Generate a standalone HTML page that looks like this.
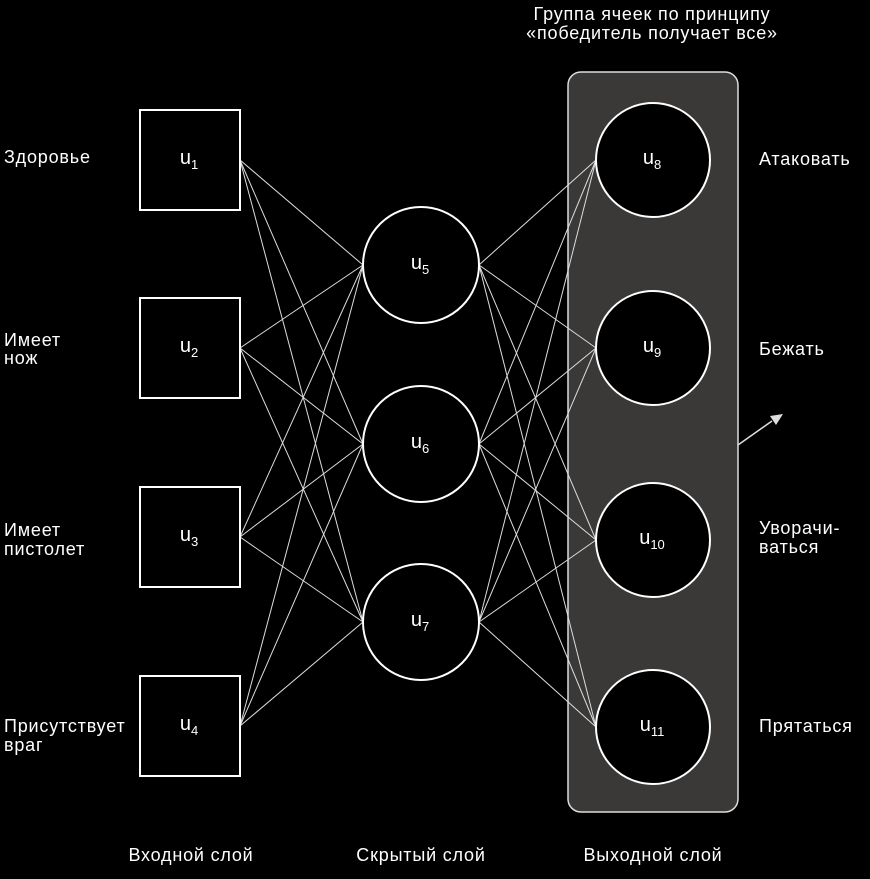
<!DOCTYPE html>
<html><head><meta charset="utf-8"><style>
html,body{margin:0;padding:0;background:#000;}
svg{display:block}
text{font-family:"Liberation Sans","DejaVu Sans",sans-serif;fill:#fff;font-size:18px;letter-spacing:0.8px}
.u{font-size:20px;letter-spacing:0}
</style></head><body>
<svg width="870" height="879" viewBox="0 0 870 879" xmlns="http://www.w3.org/2000/svg">
<rect x="568" y="72" width="170" height="740" rx="13" fill="#3a3937" stroke="#ddd" stroke-width="1.5"/>
<g stroke="#ddd" stroke-width="1">
<line x1="240" y1="160" x2="363" y2="265"/><line x1="240" y1="160" x2="363" y2="444"/><line x1="240" y1="160" x2="363" y2="622"/>
<line x1="240" y1="348" x2="363" y2="265"/><line x1="240" y1="348" x2="363" y2="444"/><line x1="240" y1="348" x2="363" y2="622"/>
<line x1="240" y1="537" x2="363" y2="265"/><line x1="240" y1="537" x2="363" y2="444"/><line x1="240" y1="537" x2="363" y2="622"/>
<line x1="240" y1="726" x2="363" y2="265"/><line x1="240" y1="726" x2="363" y2="444"/><line x1="240" y1="726" x2="363" y2="622"/>
<line x1="479" y1="265" x2="596" y2="160"/><line x1="479" y1="265" x2="596" y2="348"/><line x1="479" y1="265" x2="596" y2="540"/><line x1="479" y1="265" x2="596" y2="727"/>
<line x1="479" y1="444" x2="596" y2="160"/><line x1="479" y1="444" x2="596" y2="348"/><line x1="479" y1="444" x2="596" y2="540"/><line x1="479" y1="444" x2="596" y2="727"/>
<line x1="479" y1="622" x2="596" y2="160"/><line x1="479" y1="622" x2="596" y2="348"/><line x1="479" y1="622" x2="596" y2="540"/><line x1="479" y1="622" x2="596" y2="727"/>
<line x1="738" y1="445" x2="772" y2="421" stroke-width="1.5"/>
</g>
<polygon points="783,414 770,416 776,425" fill="#ddd"/>
<g fill="#000" stroke="#fff" stroke-width="2">
<rect x="140" y="110" width="100" height="100"/>
<rect x="140" y="298" width="100" height="100"/>
<rect x="140" y="487" width="100" height="100"/>
<rect x="140" y="676" width="100" height="100"/>
<circle cx="421" cy="265" r="58"/><circle cx="421" cy="444" r="58"/><circle cx="421" cy="622" r="58"/>
<circle cx="653" cy="160" r="57"/><circle cx="653" cy="348" r="57"/><circle cx="653" cy="540" r="57"/><circle cx="653" cy="727" r="57"/>
</g>
<g text-anchor="middle">
<text class="u" x="189" y="164">u<tspan font-size="13" dy="5">1</tspan></text>
<text class="u" x="189" y="352">u<tspan font-size="13" dy="5">2</tspan></text>
<text class="u" x="189" y="541">u<tspan font-size="13" dy="5">3</tspan></text>
<text class="u" x="189" y="730">u<tspan font-size="13" dy="5">4</tspan></text>
<text class="u" x="420" y="269">u<tspan font-size="13" dy="5">5</tspan></text>
<text class="u" x="420" y="448">u<tspan font-size="13" dy="5">6</tspan></text>
<text class="u" x="420" y="626">u<tspan font-size="13" dy="5">7</tspan></text>
<text class="u" x="652" y="164">u<tspan font-size="13" dy="5">8</tspan></text>
<text class="u" x="652" y="352">u<tspan font-size="13" dy="5">9</tspan></text>
<text class="u" x="652" y="544">u<tspan font-size="13" dy="5">10</tspan></text>
<text class="u" x="652" y="731">u<tspan font-size="13" dy="5">11</tspan></text>
<text x="652" y="20">Группа ячеек по принципу</text>
<text x="652" y="39">«победитель получает все»</text>
<text x="191" y="861">Входной слой</text>
<text x="421" y="861">Скрытый слой</text>
<text x="653" y="861">Выходной слой</text>
</g>
<text x="4" y="163">Здоровье</text>
<text x="4" y="346">Имеет</text><text x="4" y="364">нож</text>
<text x="4" y="536">Имеет</text><text x="4" y="555">пистолет</text>
<text x="4" y="732">Присутствует</text><text x="4" y="751">враг</text>
<text x="759" y="165">Атаковать</text>
<text x="759" y="355">Бежать</text>
<text x="759" y="534">Уворачи-</text><text x="759" y="553">ваться</text>
<text x="759" y="732">Прятаться</text>
</svg>
</body></html>
